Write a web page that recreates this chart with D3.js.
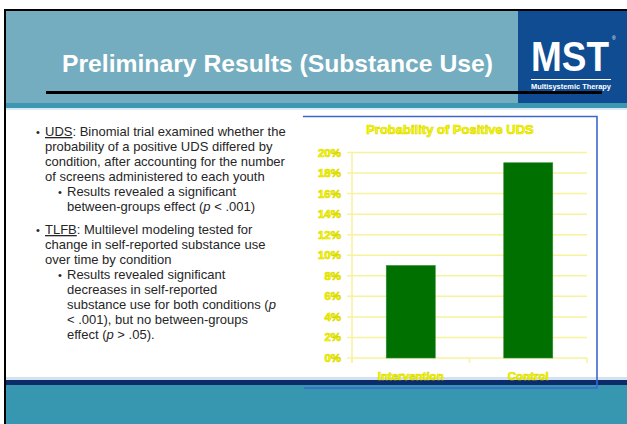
<!DOCTYPE html>
<html>
<head>
<meta charset="utf-8">
<script src="https://cdn.jsdelivr.net/npm/d3@7"></script>
<style>
  body { margin: 0; background: #ffffff; }
  svg { display: block; font-family: "Liberation Sans", Arial, sans-serif; }
</style>
</head>
<body>
<div id="slide"></div>
<script>
// chart data
var categories = ["Intervention", "Control"];
var values = [0.09, 0.19];
var yTickValues = [0, 0.02, 0.04, 0.06, 0.08, 0.10, 0.12, 0.14, 0.16, 0.18, 0.20];
var chartTitle = "Probability of Positive UDS";
var slideTitle = "Preliminary Results (Substance Use)";

// bullet text, one entry per paragraph
var paragraphs = [
  { level: 1, lines: [
    [{ t: "UDS", u: true }, { t: ": Binomial trial examined whether the" }],
    [{ t: "probability of a positive UDS differed by" }],
    [{ t: "condition, after accounting for the number" }],
    [{ t: "of screens administered to each youth" }]
  ]},
  { level: 2, lines: [
    [{ t: "Results revealed a significant" }],
    [{ t: "between-groups effect (" }, { t: "p", i: true }, { t: " < .001)" }]
  ]},
  { level: 1, lines: [
    [{ t: "TLFB", u: true }, { t: ": Multilevel modeling tested for" }],
    [{ t: "change in self-reported substance use" }],
    [{ t: "over time by condition" }]
  ]},
  { level: 2, lines: [
    [{ t: "Results revealed significant" }],
    [{ t: "decreases in self-reported" }],
    [{ t: "substance use for both conditions (" }, { t: "p", i: true }],
    [{ t: "< .001), but no between-groups" }],
    [{ t: "effect (" }, { t: "p", i: true }, { t: " > .05)." }]
  ]}
];

var W = 627, H = 424;

var svg = d3.select("#slide")
  .append("svg")
  .attr("width", W)
  .attr("height", H);

// ---- slide background ----
svg.append("rect").attr("x", 0).attr("y", 0).attr("width", W).attr("height", H).attr("fill", "#ffffff");

// header band
svg.append("rect").attr("x", 4).attr("y", 9).attr("width", W - 4).attr("height", 95).attr("fill", "#74adbf");
svg.append("rect").attr("x", 4).attr("y", 103).attr("width", W - 4).attr("height", 5).attr("fill", "#3d97b0");
svg.append("rect").attr("x", 4).attr("y", 108).attr("width", W - 4).attr("height", 2).attr("fill", "#d6eaf0");

// MST logo box
svg.append("rect").attr("x", 518).attr("y", 11).attr("width", W - 518).attr("height", 92).attr("fill", "#0f4c92");
svg.append("text")
  .attr("transform", "translate(531,71) scale(0.88,1)")
  .style("font-size", "42px").style("font-weight", "bold")
  .attr("fill", "#ffffff")
  .text("MST");
svg.append("text")
  .attr("x", 612).attr("y", 40)
  .style("font-size", "5px").attr("fill", "#ffffff")
  .text("®");
svg.append("rect").attr("x", 531).attr("y", 79).attr("width", 80).attr("height", 1).attr("fill", "#ffffff");
svg.append("text")
  .attr("x", 531).attr("y", 89)
  .attr("textLength", 80).attr("lengthAdjust", "spacingAndGlyphs")
  .style("font-size", "6.5px").style("font-weight", "bold")
  .attr("fill", "#ffffff")
  .text("Multisystemic Therapy");

// slide title
svg.append("text")
  .attr("x", 62).attr("y", 72)
  .attr("textLength", 431).attr("lengthAdjust", "spacingAndGlyphs")
  .style("font-size", "24px").style("font-weight", "bold")
  .attr("fill", "#ffffff")
  .text(slideTitle);

// black rule under title
svg.append("rect").attr("x", 46).attr("y", 91).attr("width", 556).attr("height", 3).attr("fill", "#000000");

// footer
svg.append("rect").attr("x", 4).attr("y", 377).attr("width", W - 4).attr("height", 3).attr("fill", "#d3e2ec");
svg.append("rect").attr("x", 4).attr("y", 380).attr("width", W - 4).attr("height", 5).attr("fill", "#0b2b6b");
svg.append("rect").attr("x", 4).attr("y", 385).attr("width", W - 4).attr("height", H - 385).attr("fill", "#3797b0");

// black frame on left and top
svg.append("rect").attr("x", 4).attr("y", 9).attr("width", W - 4).attr("height", 2).attr("fill", "#000000");
svg.append("rect").attr("x", 4).attr("y", 9).attr("width", 2).attr("height", H - 9).attr("fill", "#000000");

// ---- bullet text ----
var textG = svg.append("g")
  .style("font-size", "13px")
  .attr("fill", "#262626");

var lineHeight = 15;
var yPos = 136;
var indent = { 1: { bullet: 36, text: 45 }, 2: { bullet: 58, text: 67 } };

paragraphs.forEach(function(p, pi) {
  if (pi > 0 && p.level === 1) yPos += 8;
  textG.append("text")
    .attr("x", indent[p.level].bullet)
    .attr("y", yPos)
    .style("font-size", "11px")
    .text("•");
  p.lines.forEach(function(line) {
    var t = textG.append("text")
      .attr("x", indent[p.level].text)
      .attr("y", yPos);
    line.forEach(function(seg) {
      t.append("tspan")
        .style("text-decoration", seg.u ? "underline" : null)
        .style("font-style", seg.i ? "italic" : null)
        .text(seg.t);
    });
    yPos += lineHeight;
  });
});

// ---- chart ----
var x0 = 352, x1 = 587;
var yTop = 152.5, yBottom = 358;

var x = d3.scaleBand()
  .domain(categories)
  .range([x0, x1])
  .paddingInner(0.583)
  .paddingOuter(0.2915);

var y = d3.scaleLinear()
  .domain([0, 0.20])
  .range([yBottom, yTop]);

var chart = svg.append("g");
var yellowLine = "#f7f29c";

// gridlines
chart.selectAll(".grid")
  .data(yTickValues)
  .enter()
  .append("line")
    .attr("x1", x0 - 5)
    .attr("x2", x1)
    .attr("y1", function(d) { return y(d); })
    .attr("y2", function(d) { return y(d); })
    .attr("stroke", yellowLine)
    .attr("stroke-width", 1.5);

// y axis line
chart.append("line")
  .attr("x1", x0).attr("x2", x0)
  .attr("y1", yTop).attr("y2", yBottom + 5)
  .attr("stroke", yellowLine)
  .attr("stroke-width", 1.5);

// x axis ticks at band edges
var edges = categories.map(function(c) { return x(c) - x.step() * x.paddingOuter(); }).concat([x1]);
chart.selectAll(".xtick")
  .data(edges)
  .enter()
  .append("line")
    .attr("x1", function(d) { return d; })
    .attr("x2", function(d) { return d; })
    .attr("y1", yBottom)
    .attr("y2", yBottom + 5)
    .attr("stroke", yellowLine)
    .attr("stroke-width", 1.5);

// bars
chart.selectAll(".bar")
  .data(values)
  .enter()
  .append("rect")
    .attr("x", function(d, i) { return x(categories[i]); })
    .attr("y", function(d) { return y(d); })
    .attr("width", x.bandwidth())
    .attr("height", function(d) { return yBottom - y(d); })
    .attr("fill", "#007000")
    .attr("stroke", "#2f8a2f")
    .attr("stroke-width", 0.6);

// yellow labels
function yellowText(sel) {
  sel.attr("fill", "#ffff00")
    .attr("stroke", "#d9d900")
    .attr("stroke-width", 0.7)
    .style("font-weight", "bold");
}

chart.selectAll(".ylabel")
  .data(yTickValues)
  .enter()
  .append("text")
    .attr("x", 341)
    .attr("y", function(d) { return y(d); })
    .attr("dy", "0.35em")
    .attr("text-anchor", "end")
    .style("font-size", "11.5px")
    .call(yellowText)
    .text(function(d) { return d3.format(".0%")(d); });

chart.selectAll(".xlabel")
  .data(categories)
  .enter()
  .append("text")
    .attr("x", function(d) { return x(d) + x.bandwidth() / 2; })
    .attr("y", 376)
    .attr("dy", "0.35em")
    .attr("text-anchor", "middle")
    .style("font-size", "11.5px")
    .call(yellowText)
    .text(function(d) { return d; });

chart.append("text")
  .attr("x", 450).attr("y", 129)
  .attr("dy", "0.35em")
  .attr("text-anchor", "middle")
  .style("font-size", "13px")
  .call(yellowText)
  .text(chartTitle);

// blue chart frame (no left side)
chart.append("path")
  .attr("d", "M303,116.5 H597 V388 H304")
  .attr("fill", "none")
  .attr("stroke", "#3f66cf")
  .attr("stroke-width", 1.6);
</script>
</body>
</html>
